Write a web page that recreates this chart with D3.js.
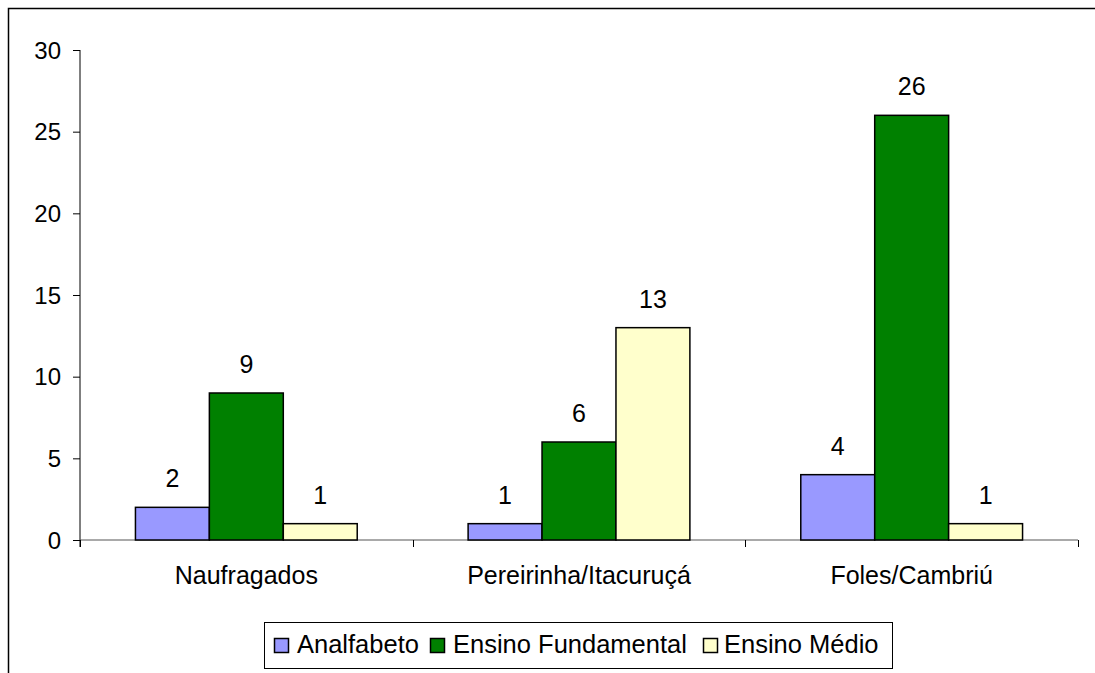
<!DOCTYPE html>
<html>
<head>
<meta charset="utf-8">
<script src="https://cdn.jsdelivr.net/npm/d3@7"></script>
<style>
  html, body { margin: 0; padding: 0; background: #fff; }
  svg { display: block; }
  text { font-family: "Liberation Sans", Arial, sans-serif; fill: #000; }
</style>
</head>
<body>
<svg id="chart" width="1095" height="673"></svg>
<script>
// Escolaridade por comunidade
const categories = ["Naufragados", "Pereirinha/Itacuruçá", "Foles/Cambriú"];
const seriesNames = ["Analfabeto", "Ensino Fundamental", "Ensino Médio"];
const analfabeto = [2, 1, 4];
const ensinoFundamental = [9, 6, 26];
const ensinoMedio = [1, 13, 1];
const yTicks = [0, 5, 10, 15, 20, 25, 30];
const colors = ["#9999FF", "#008000", "#FFFFCC"];

const seriesValues = [analfabeto, ensinoFundamental, ensinoMedio];

const svg = d3.select("#chart");
const fontSize = 25;

// Outer frame
svg.append("path")
  .attr("d", "M8.5,673 V8.5 H1095")
  .attr("fill", "none")
  .attr("stroke", "#000")
  .attr("stroke-width", 1.5);

const plot = { left: 80, right: 1078, top: 50, bottom: 540 };

const x0 = d3.scaleBand().domain(categories).range([plot.left, plot.right]).paddingInner(0).paddingOuter(0);
// 150% gap between groups: three bars take 3 of 4.5 bar widths
const x1 = d3.scaleBand().domain(seriesNames).range([0, x0.bandwidth()]).paddingInner(0).paddingOuter(0.75);
const y = d3.scaleLinear().domain([0, 30]).range([plot.bottom, plot.top]);

// Y axis
const yAxis = d3.axisLeft(y).tickValues(yTicks).tickSize(7).tickPadding(12);
const gy = svg.append("g").attr("transform", `translate(${plot.left},0)`).call(yAxis);
gy.select(".domain").attr("stroke", "#000").attr("d", `M0,${plot.top + 0.5}H-7M0,${plot.top}V${plot.bottom + 7}`);
gy.selectAll(".tick line").attr("stroke", "#000");
gy.selectAll(".tick text").style("font-size", "24px").attr("font-family", "Liberation Sans, Arial, sans-serif").attr("dy", "0.34em");

// X axis with ticks at category boundaries
const gx = svg.append("g").attr("transform", `translate(0,${plot.bottom})`);
gx.append("line").attr("x1", plot.left).attr("x2", plot.right).attr("stroke", "#555").attr("stroke-width", 1);
const boundaries = categories.map(c => x0(c)).concat([plot.right]);
gx.selectAll("line.tk").data(boundaries).join("line")
  .attr("class", "tk")
  .attr("x1", d => Math.round(d) + 0.5).attr("x2", d => Math.round(d) + 0.5)
  .attr("y1", 0).attr("y2", 7)
  .attr("stroke", "#000");
gx.selectAll("text").data(categories).join("text")
  .attr("x", d => x0(d) + x0.bandwidth() / 2)
  .attr("y", 44)
  .attr("text-anchor", "middle")
  .style("font-size", fontSize + "px")
  .text(d => d);

// Bars
const rows = categories.map((c, i) => ({ cat: c, vals: seriesNames.map((s, j) => ({ s, j, v: seriesValues[j][i] })) }));
const groups = svg.selectAll("g.grp").data(rows).join("g")
  .attr("class", "grp")
  .attr("transform", d => `translate(${x0(d.cat)},0)`);

groups.selectAll("rect").data(d => d.vals).join("rect")
  .attr("x", d => x1(d.s))
  .attr("y", d => y(d.v))
  .attr("width", x1.bandwidth())
  .attr("height", d => y(0) - y(d.v))
  .attr("fill", d => colors[d.j])
  .attr("stroke", "#000")
  .attr("stroke-width", 1.5);

groups.selectAll("text.val").data(d => d.vals).join("text")
  .attr("class", "val")
  .attr("x", d => x1(d.s) + x1.bandwidth() / 2)
  .attr("y", d => y(d.v) - 20)
  .attr("text-anchor", "middle")
  .style("font-size", fontSize + "px")
  .text(d => d.v);

// Legend
const legend = svg.append("g");
legend.append("rect")
  .attr("x", 264.5).attr("y", 622.5).attr("width", 628).attr("height", 46)
  .attr("fill", "#fff").attr("stroke", "#000").attr("stroke-width", 1);
const legendSwatchX = [274, 430, 703];
const legendTextX = [297, 453, 724];
seriesNames.forEach((s, i) => {
  legend.append("rect")
    .attr("x", legendSwatchX[i] + 0.5).attr("y", 638.5).attr("width", 14).attr("height", 14)
    .attr("fill", colors[i]).attr("stroke", "#000").attr("stroke-width", 1.5);
  legend.append("text")
    .attr("x", legendTextX[i]).attr("y", 653)
    .style("font-size", "25.5px")
    .text(s);
});
</script>
</body>
</html>
